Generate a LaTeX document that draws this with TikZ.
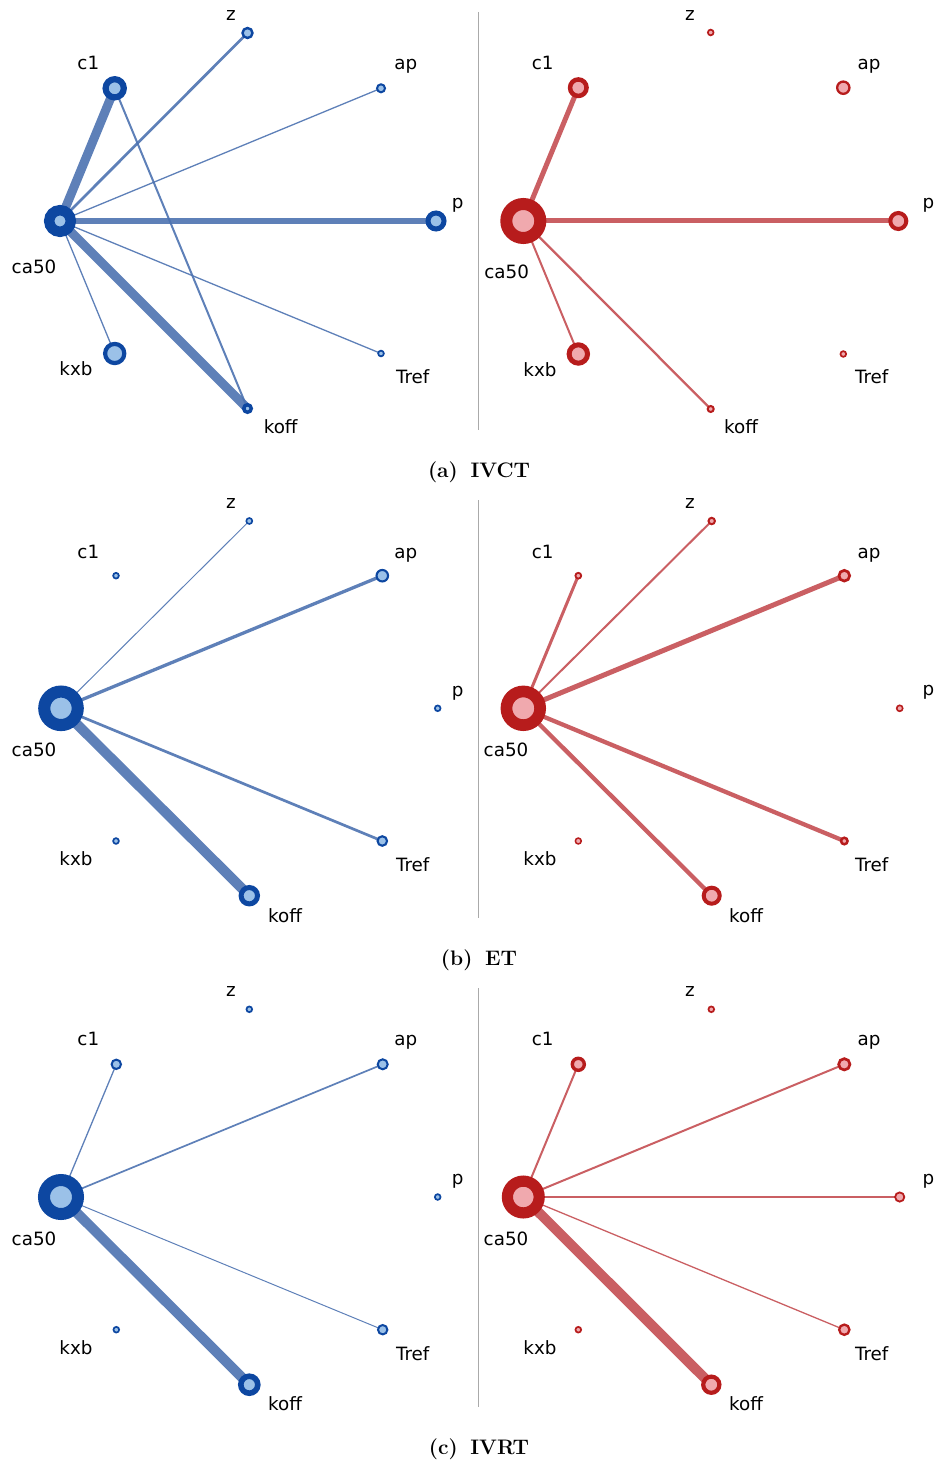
\documentclass[tikz,border=0pt]{standalone}
\usepackage{fontspec}
\newfontfamily\labfamily{DejaVu Sans}
\usetikzlibrary{backgrounds}
\definecolor{bdark}{HTML}{0D47A1}
\definecolor{bfill}{HTML}{9BC1E8}
\definecolor{bedgec}{HTML}{4C72B0}
\definecolor{rdark}{HTML}{B71C1C}
\definecolor{rfill}{HTML}{F0A9AE}
\definecolor{redgec}{HTML}{C44E52}
\definecolor{divc}{HTML}{AAAAAA}
\newcommand\gn[6]{\node[#1, minimum size=#5pt+#6pt, line width=#5pt-#6pt] (#2) at (#3,#4) {};}
\newcommand\ed[4]{\draw[#1, line width=#2pt] (#3.center) -- (#4.center);}
\newcommand\lb[4]{\node[lab] (#1) at (#2,#3) {#4};}
\tikzset{
  bnode/.style={circle, inner sep=0pt, outer sep=0pt, fill=bfill, draw=bdark},
  rnode/.style={circle, inner sep=0pt, outer sep=0pt, fill=rfill, draw=rdark},
  bedge/.style={draw=bedgec, draw opacity=0.9},
  redge/.style={draw=redgec, draw opacity=0.9},
  lab/.style={font=\labfamily\fontsize{18.3}{21}\selectfont, inner sep=0pt},
  captxt/.style={font=\fontsize{21}{24}\selectfont\bfseries, inner sep=0pt},
  divider/.style={draw=divc, line width=1.5pt}
}
\begin{document}
\begin{tikzpicture}[x=1pt, y=-1pt]
\useasboundingbox (0,0) rectangle (935,1463);

% ---------------- panel (a) left ----------------
\gn{bnode}{aL-ca50}{60}{221}{16}{5.6}
\gn{bnode}{aL-c1}{114.7}{88.3}{12.2}{6}
\gn{bnode}{aL-z}{247.5}{33}{6.2}{3.8}
\gn{bnode}{aL-ap}{381}{88.3}{5}{3}
\gn{bnode}{aL-p}{436}{221}{10.5}{5.5}
\gn{bnode}{aL-Tref}{381}{353.5}{3.7}{2}
\gn{bnode}{aL-koff}{247.5}{408.5}{5.5}{2}
\gn{bnode}{aL-kxb}{114.7}{353.5}{11.7}{7.5}
\lb{aL-z-l}{231}{15.3}{z}
\lb{aL-c1-l}{88.3}{62.7}{c1}
\lb{aL-ap-l}{405.7}{66}{ap}
\lb{aL-p-l}{457.7}{205}{p}
\lb{aL-ca50-l}{34}{266.7}{ca50}
\lb{aL-kxb-l}{76}{369}{kxb}
\lb{aL-Tref-l}{412.7}{376.5}{Tref}
\lb{aL-koff-l}{280.7}{426.7}{koff}

% ---------------- panel (a) right ----------------
\gn{rnode}{aR-ca50}{523.3}{221}{23}{11}
\gn{rnode}{aR-c1}{578.3}{87.7}{10.5}{6}
\gn{rnode}{aR-z}{710.7}{32.5}{3.7}{2}
\gn{rnode}{aR-ap}{843.3}{87.7}{7.3}{5}
\gn{rnode}{aR-p}{898.3}{221}{10}{6}
\gn{rnode}{aR-Tref}{843.3}{354}{3.7}{2}
\gn{rnode}{aR-koff}{710.7}{409}{4}{2}
\gn{rnode}{aR-kxb}{578.3}{354}{11.7}{6.7}
\lb{aR-z-l}{690}{15.3}{z}
\lb{aR-c1-l}{542.7}{62.7}{c1}
\lb{aR-ap-l}{869}{66}{ap}
\lb{aR-p-l}{928.3}{205}{p}
\lb{aR-ca50-l}{506.7}{271.7}{ca50}
\lb{aR-kxb-l}{540}{369.3}{kxb}
\lb{aR-Tref-l}{871.7}{376.5}{Tref}
\lb{aR-koff-l}{741}{426.7}{koff}

% ---------------- panel (b) left ----------------
\gn{bnode}{bL-ca50}{61}{708.3}{22.8}{10.7}
\gn{bnode}{bL-c1}{116}{575.7}{3.7}{2}
\gn{bnode}{bL-z}{249.3}{521}{3.8}{2.2}
\gn{bnode}{bL-ap}{382.3}{575.7}{6.8}{4.7}
\gn{bnode}{bL-p}{437.7}{708.3}{3.7}{2}
\gn{bnode}{bL-Tref}{382.3}{841}{5.8}{3.7}
\gn{bnode}{bL-koff}{249.3}{895.7}{10.7}{5.7}
\gn{bnode}{bL-kxb}{116}{841}{3.7}{2}
\lb{bL-z-l}{231}{503.3}{z}
\lb{bL-c1-l}{88.3}{551.7}{c1}
\lb{bL-ap-l}{405.7}{555}{ap}
\lb{bL-p-l}{457.7}{693.3}{p}
\lb{bL-ca50-l}{34}{750}{ca50}
\lb{bL-kxb-l}{76}{858.3}{kxb}
\lb{bL-Tref-l}{412.7}{864.5}{Tref}
\lb{bL-koff-l}{285}{916}{koff}

% ---------------- panel (b) right ----------------
\gn{rnode}{bR-ca50}{523.3}{708.3}{22.7}{11}
\gn{rnode}{bR-c1}{578.3}{575.7}{3.8}{2}
\gn{rnode}{bR-z}{711.7}{521}{4.2}{2.2}
\gn{rnode}{bR-ap}{844.3}{575.7}{6.7}{4}
\gn{rnode}{bR-p}{899.7}{708.3}{3.8}{2.2}
\gn{rnode}{bR-Tref}{844.3}{841}{4.5}{2}
\gn{rnode}{bR-koff}{711.7}{895.7}{10}{6}
\gn{rnode}{bR-kxb}{578.3}{841}{3.7}{2.2}
\lb{bR-z-l}{690}{503.3}{z}
\lb{bR-c1-l}{542.7}{551.7}{c1}
\lb{bR-ap-l}{869}{555}{ap}
\lb{bR-p-l}{928.3}{692.6}{p}
\lb{bR-ca50-l}{506}{750}{ca50}
\lb{bR-kxb-l}{540}{858.3}{kxb}
\lb{bR-Tref-l}{871.7}{864.5}{Tref}
\lb{bR-koff-l}{746}{916}{koff}

% ---------------- panel (c) left ----------------
\gn{bnode}{cL-ca50}{61}{1197}{23}{11}
\gn{bnode}{cL-c1}{116.3}{1064.3}{5.7}{3.7}
\gn{bnode}{cL-z}{249.3}{1009.3}{3.7}{2}
\gn{bnode}{cL-ap}{382.7}{1064.3}{6}{4}
\gn{bnode}{cL-p}{437.7}{1197}{3.7}{2}
\gn{bnode}{cL-Tref}{382.7}{1329.7}{5.7}{3.7}
\gn{bnode}{cL-koff}{249.3}{1384.7}{11.3}{5.7}
\gn{bnode}{cL-kxb}{116.3}{1329.7}{3.7}{2}
\lb{cL-z-l}{231}{991.7}{z}
\lb{cL-c1-l}{88.3}{1039.3}{c1}
\lb{cL-ap-l}{405.7}{1042.6}{ap}
\lb{cL-p-l}{457.7}{1181.6}{p}
\lb{cL-ca50-l}{34}{1239.3}{ca50}
\lb{cL-kxb-l}{76}{1347.3}{kxb}
\lb{cL-Tref-l}{412.7}{1353.2}{Tref}
\lb{cL-koff-l}{285}{1404}{koff}

% ---------------- panel (c) right ----------------
\gn{rnode}{cR-ca50}{523.3}{1197}{21.5}{10.3}
\gn{rnode}{cR-c1}{578.3}{1064.3}{7.7}{4.3}
\gn{rnode}{cR-z}{711.3}{1009.3}{3.7}{2}
\gn{rnode}{cR-ap}{844.3}{1064.3}{7}{4.3}
\gn{rnode}{cR-p}{899.7}{1197}{5.5}{3.7}
\gn{rnode}{cR-Tref}{844.3}{1329.7}{6.3}{4}
\gn{rnode}{cR-koff}{711.3}{1384.7}{10.2}{6}
\gn{rnode}{cR-kxb}{578.3}{1329.7}{3.7}{2}
\lb{cR-z-l}{690}{991.7}{z}
\lb{cR-c1-l}{542.7}{1039.3}{c1}
\lb{cR-ap-l}{869}{1042.6}{ap}
\lb{cR-p-l}{928.3}{1181.6}{p}
\lb{cR-ca50-l}{506}{1239.3}{ca50}
\lb{cR-kxb-l}{540}{1347.3}{kxb}
\lb{cR-Tref-l}{871.7}{1353.2}{Tref}
\lb{cR-koff-l}{746}{1404}{koff}

% ---------------- edges (behind nodes) ----------------
\begin{scope}[on background layer]
  % (a) left
  \ed{bedge}{9}{aL-ca50}{aL-c1}
  \ed{bedge}{2.7}{aL-ca50}{aL-z}
  \ed{bedge}{1.3}{aL-ca50}{aL-ap}
  \ed{bedge}{5.5}{aL-ca50}{aL-p}
  \ed{bedge}{1.3}{aL-ca50}{aL-Tref}
  \ed{bedge}{9}{aL-ca50}{aL-koff}
  \ed{bedge}{1.3}{aL-ca50}{aL-kxb}
  \ed{bedge}{2}{aL-c1}{aL-koff}
  % (a) right
  \ed{redge}{5}{aR-ca50}{aR-c1}
  \ed{redge}{5}{aR-ca50}{aR-p}
  \ed{redge}{2}{aR-ca50}{aR-kxb}
  \ed{redge}{2.3}{aR-ca50}{aR-koff}
  % (b) left
  \ed{bedge}{1}{bL-ca50}{bL-z}
  \ed{bedge}{3.3}{bL-ca50}{bL-ap}
  \ed{bedge}{2.7}{bL-ca50}{bL-Tref}
  \ed{bedge}{10}{bL-ca50}{bL-koff}
  % (b) right
  \ed{redge}{3}{bR-ca50}{bR-c1}
  \ed{redge}{2}{bR-ca50}{bR-z}
  \ed{redge}{5}{bR-ca50}{bR-ap}
  \ed{redge}{4.3}{bR-ca50}{bR-Tref}
  \ed{redge}{4.3}{bR-ca50}{bR-koff}
  % (c) left
  \ed{bedge}{1.3}{cL-ca50}{cL-c1}
  \ed{bedge}{1.7}{cL-ca50}{cL-ap}
  \ed{bedge}{1}{cL-ca50}{cL-Tref}
  \ed{bedge}{10}{cL-ca50}{cL-koff}
  % (c) right
  \ed{redge}{2}{cR-ca50}{cR-c1}
  \ed{redge}{2}{cR-ca50}{cR-ap}
  \ed{redge}{1.2}{cR-ca50}{cR-p}
  \ed{redge}{1.3}{cR-ca50}{cR-Tref}
  \ed{redge}{10}{cR-ca50}{cR-koff}
\end{scope}

% ---------------- dividers ----------------
\draw[divider] (478.5,12) -- (478.5,430);
\draw[divider] (478.5,500) -- (478.5,918);
\draw[divider] (478.5,988) -- (478.5,1407);

% ---------------- captions ----------------
\node[captxt] (capa) at (479,472) {(a)\hspace{0.6em}IVCT};
\node[captxt] (capb) at (479,960) {(b)\hspace{0.6em}ET};
\node[captxt] (capc) at (479,1449) {(c)\hspace{0.6em}IVRT};
\end{tikzpicture}
\end{document}
